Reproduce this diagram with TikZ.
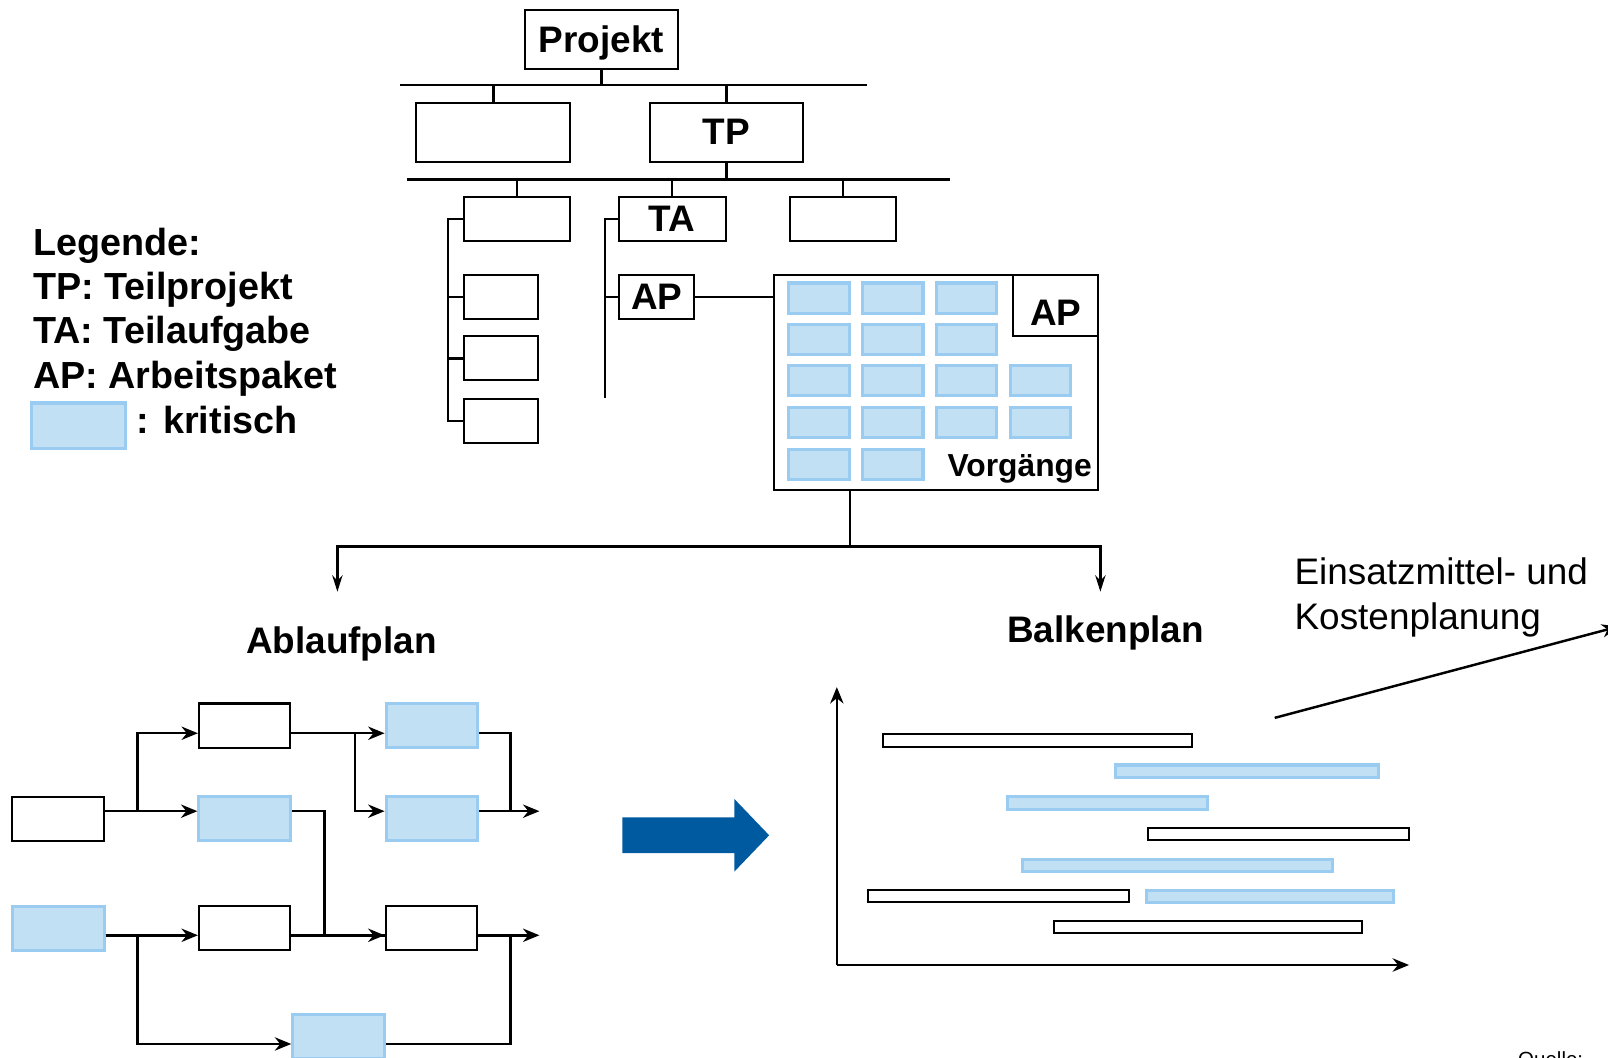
\documentclass[tikz,border=0pt]{standalone}
\usepackage{fontspec}
\setmainfont{Liberation Sans}
\usetikzlibrary{arrows.meta}
\definecolor{kritfill}{RGB}{194,224,244}
\definecolor{kritline}{RGB}{153,204,240}
\definecolor{pfeilblau}{RGB}{0,90,160}
\tikzset{
  lbl/.style={font=\bfseries\fontsize{18}{21.5}\selectfont},
  leglbl/.style={font=\bfseries\fontsize{18.4}{21.5}\selectfont, anchor=base west, inner sep=0pt},
  box/.style={draw, line width=1pt, inner sep=0pt, fill=white, lbl},
  krit/.style={draw=kritline, fill=kritfill, line width=1.5pt, inner sep=0pt},
  bar/.style={line width=1.2pt},
  nbox/.style={box, minimum width=44.5pt, minimum height=21.5pt},
  nkrit/.style={krit, minimum width=44.5pt, minimum height=21.5pt},
  gbar/.style={draw, line width=1pt, fill=white},
  kbar/.style={krit},
  >={Stealth[length=8pt,width=6.5pt]}
}
\begin{document}
\begin{tikzpicture}[x=0.5pt,y=-0.5pt]
    \clip (0,0) rectangle (1568,1031);
    \fill[white] (0,0) rectangle (1568,1031);

    % Projekt and the first bus
    \node[box, minimum width=74.5pt, minimum height=28.5pt] (projekt) at (586.5,38.5) {};
    \node[lbl] at ([yshift=-1.5pt]projekt.center) {Projekt};
    \coordinate (bus1l) at (390,83);
    \coordinate (bus1r) at (845,83);
    \draw[bar] (bus1l) -- (bus1r);
    \draw[bar] (projekt) -- (projekt |- bus1l);

    % Teilprojekte
    \node[box, minimum width=75pt, minimum height=29pt] (tp0) at (481,129) {};
    \node[box, minimum width=74.5pt, minimum height=29pt] (tp) at (708.5,129) {TP};
    \foreach \n in {tp0, tp}
        \draw[bar] (\n) -- (\n |- bus1l);

    % Teilaufgaben under TP
    \coordinate (bus2l) at (397,175);
    \coordinate (bus2r) at (926,175);
    \draw[bar] (bus2l) -- (bus2r);
    \draw[bar] (tp) -- (tp |- bus2l);
    \foreach \n/\x in {ta0/504, ta/655.5, ta2/822}
        \node[box, minimum width=52pt, minimum height=21.5pt] (\n) at (\x,213.5) {};
    \node[lbl] at (ta) {TA};
    \foreach \n in {ta0, ta, ta2}
        \draw[bar] (\n) -- (\n |- bus2l);

    % Arbeitspakete below the left TA
    \foreach \y [count=\i] in {289.5, 349.5, 410.5}
        \node[box, minimum width=36.5pt, minimum height=21.5pt] (sub\i) at (488.5,\y) {};
    \coordinate (brk1) at (437,410.5);
    \draw[bar] (ta0.west) -| (brk1) -- (sub3.west);
    \foreach \i in {1, 2}
        \draw[bar] (sub\i.west) -- (sub\i.west -| brk1);

    % AP below TA
    \node[box, minimum width=36.5pt, minimum height=21.5pt] (ap) at (640.5,289.5) {AP};
    \coordinate (brk2) at (590,388);
    \draw[bar] (ta.west) -| (brk2);
    \draw[bar] (ap.west) -- (ap.west -| brk2);

    % AP detail with Vorgaenge
    \node[draw, line width=1pt, minimum width=158pt, minimum height=105pt] (apbig) at (913,373) {};
    \node[box, anchor=north east, minimum width=41.5pt, minimum height=30pt] (apecke) at (apbig.north east) {};
    \node[lbl] at ([yshift=-3.5pt]apecke.center) {AP};
    \draw[bar] (ap.east) -- (ap.east -| apbig.west);
    \foreach \cx/\cy [count=\i] in {
        798.5/291, 870.5/291, 942.5/291,
        798.5/331, 870.5/331, 942.5/331,
        798.5/371, 870.5/371, 942.5/371, 1014.5/371,
        798.5/412, 870.5/412, 942.5/412, 1014.5/412,
        798.5/453, 870.5/453}
    \node[krit, minimum width=29.5pt, minimum height=15pt] (vg\i) at (\cx,\cy) {};
    \node[font=\bfseries\fontsize{15.5}{18}\selectfont, anchor=base east, inner sep=0pt] (vorg) at (1065,465) {Vorgänge};

    % Split into Ablaufplan and Balkenplan
    \coordinate (split) at (829,533);
    \coordinate (toablauf) at (329,577);
    \coordinate (tobalken) at (1073,577);
    \draw[bar] (apbig.south -| split) -- (split);
    \draw[bar, -{Stealth[length=8pt,width=5pt]}] (split) -| (toablauf);
    \draw[bar, -{Stealth[length=8pt,width=5pt]}] (split) -| (tobalken);
    \node[lbl] (ablauf) at (333,628) {Ablaufplan};
    \node[lbl] (balken) at (1078,617) {Balkenplan};

    % Legende
    \foreach \t/\y [count=\i] in {Legende:/249, TP: Teilprojekt/292, TA: Teilaufgabe/335, AP: Arbeitspaket/379}
    \node[leglbl] (leg\i) at (32,\y) {\t};
    \node[krit, minimum width=45.5pt, minimum height=22pt] (legkrit) at (76.5,415) {};
    \node[leglbl] (leg5) at (133,423) {: kritisch};

    % Ablaufplan network
    \node[nbox] (b1) at (238.5,707.5) {};
    \node[nkrit] (c1) at (421,707.5) {};
    \node[nbox] (a1) at (56.5,798.5) {};
    \node[nkrit] (b2) at (238.5,798.5) {};
    \node[nkrit] (c2) at (421,798.5) {};
    \node[nkrit] (a2) at (57,905) {};
    \node[nbox] (b3) at (238.5,905) {};
    \node[nbox] (c3) at (420.5,905) {};
    \node[nkrit] (d) at (330,1011) {};
    % connector rows
    \coordinate (r1) at (0,715);
    \coordinate (r2) at (0,791);
    \coordinate (r3) at (0,912);
    \coordinate (r4) at (0,1018);
    \coordinate (end1) at (526,791);
    \coordinate (end2) at (526,912);

    \draw[bar, ->] (a1.east |- r2) -- (b2.west |- r2);
    \draw[bar, ->] (a1.east |- r2) -- ++(32,0) |- (b1.west |- r1);
    \draw[bar, ->] (b1.east |- r1) -- (c1.west |- r1);
    \draw[bar, ->] (b1.east |- r1) -- ++(62,0) |- (c2.west |- r2);
    \draw[bar] (c1.east |- r1) -- ++(31,0) |- (c2.east |- r2);
    \draw[bar, ->] (c2.east |- r2) -- (end1);
    \draw[bar] (b2.east |- r2) -- ++(32,0) |- (c3.west |- r3);
    \draw[bar, ->] (a2.east |- r3) -- (b3.west |- r3);
    \draw[bar, ->] (a2.east |- r3) -- ++(31,0) |- (d.west |- r4);
    \draw[bar, ->] (b3.east |- r3) -- (c3.west |- r3);
    \draw[bar, ->] (c3.east |- r3) -- (end2);
    \draw[bar] (d.east |- r4) -- ++(122,0) |- (c3.east |- r3);

    % Blue arrow
    \fill[pfeilblau] (607,797) -- (716,797) -- (716,779) -- (750,814.5)
        -- (716,850) -- (716,832) -- (607,832) -- cycle;

    % Balkenplan axes and bars
    \coordinate (o) at (816,941);
    \coordinate (ytip) at (816,670);
    \coordinate (xtip) at (1374,941);
    \draw[bar, ->] (o) -- (ytip);
    \draw[bar, ->] (o) -- (xtip);
    \foreach \xa/\xb/\y/\s in {861/1162/722/gbar, 1088/1344/752/kbar, 982/1177/783/kbar, 1119/1374/813/gbar, 997/1299/844/kbar, 846/1101/874/gbar, 1118/1359/874/kbar, 1028/1328/904/gbar}
    \draw[\s] (\xa,\y-6) rectangle (\xb,\y+6);

    % Einsatzmittel- und Kostenplanung
    \coordinate (kost1) at (1243,700);
    \coordinate (kost2) at (1578,611);
    \draw[bar, ->] (kost1) -- (kost2);
    \node[anchor=north west, align=left, inner sep=0pt, font=\fontsize{18}{22}\selectfont] (kosten) at (1262,543) {Einsatzmittel- und\\Kostenplanung};

    \node[anchor=base west, inner sep=0pt, font=\fontsize{10}{12}\selectfont] (quelle) at (1480,1040) {Quelle:};
\end{tikzpicture}
\end{document}
